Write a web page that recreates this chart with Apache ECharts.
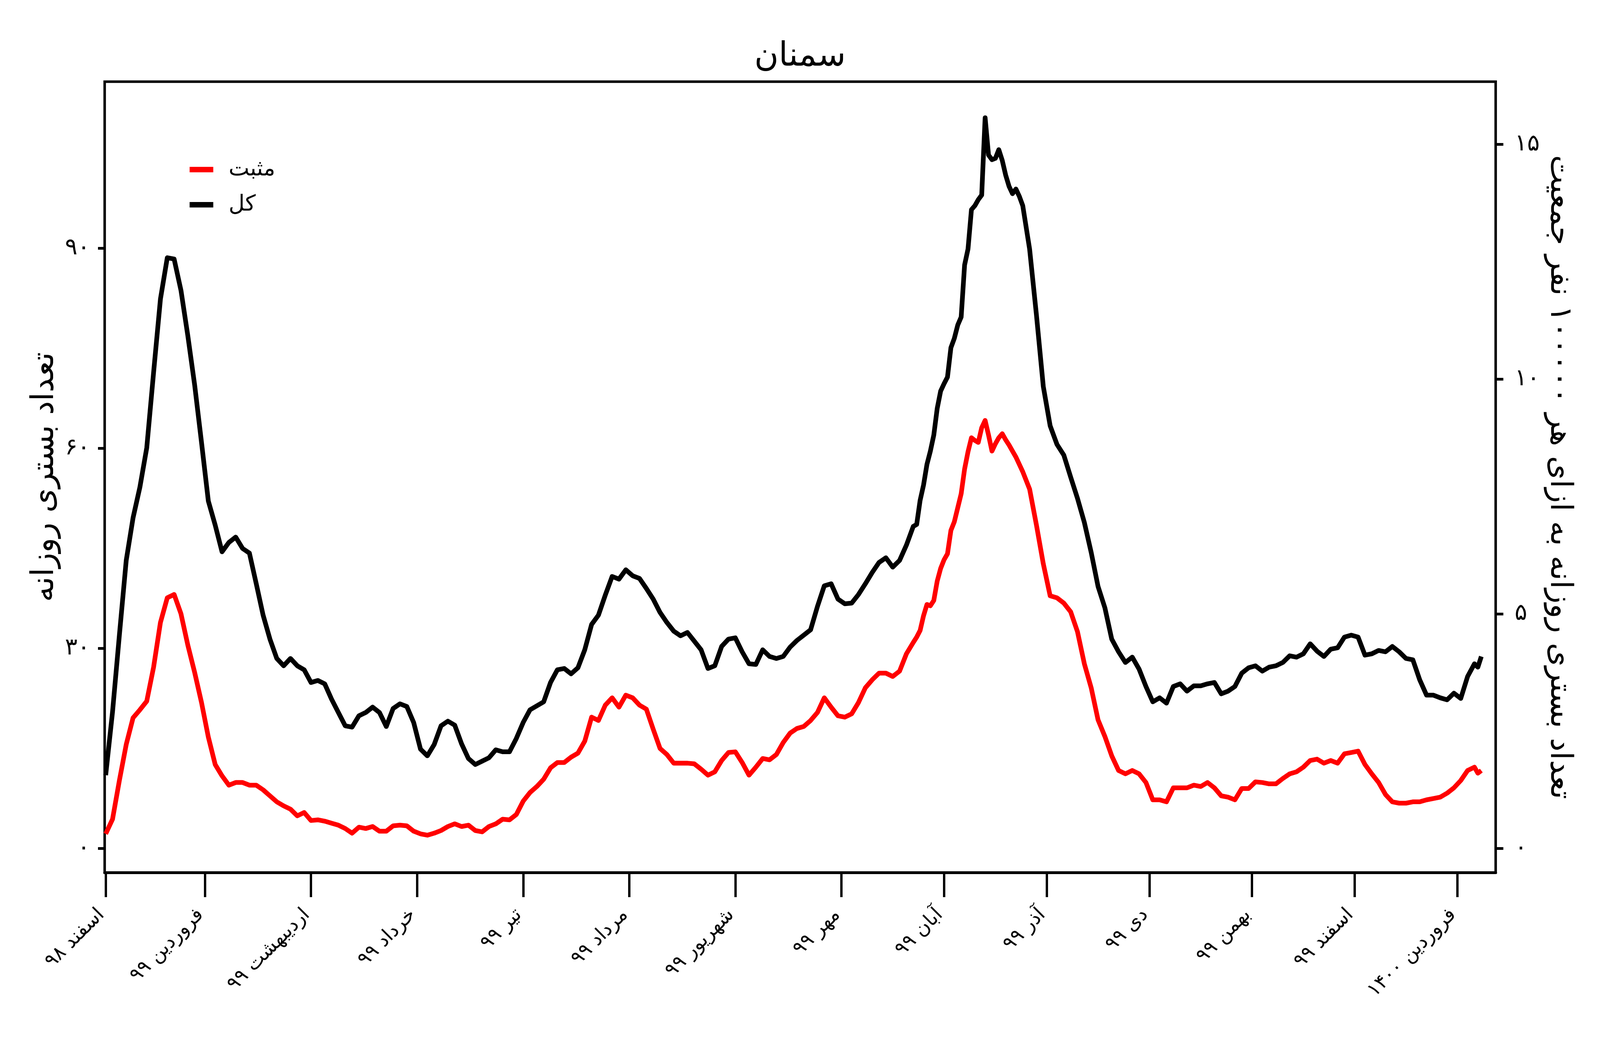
<!DOCTYPE html>
<html>
<head>
<meta charset="utf-8">
<title>سمنان</title>
<script src="https://cdn.jsdelivr.net/npm/echarts@6/dist/echarts.min.js"></script>
<style>
  html, body { margin: 0; padding: 0; background: #ffffff; overflow: hidden; }
  #chart-container { width: 100vw; height: 100vh; }
</style>
</head>
<body>
<div id="chart-container"></div>
<script>
// day 0 = 1 Esfand 1398
var days = [
  0, 2, 4, 6, 8, 10, 12, 14, 16, 18,
  20, 22, 24, 26, 28, 30, 32, 34, 36, 38,
  40, 42, 44, 46, 48, 50, 52, 54, 56, 58,
  60, 62, 64, 66, 68, 70, 72, 74, 76, 78,
  80, 82, 84, 86, 88, 90, 92, 94, 96, 98,
  100, 102, 104, 106, 108, 110, 112, 114, 116, 118,
  120, 122, 124, 126, 128, 130, 132, 134, 136, 138,
  140, 142, 144, 146, 148, 150, 152, 154, 156, 158,
  160, 162, 164, 166, 168, 170, 172, 174, 176, 178,
  180, 182, 184, 186, 188, 190, 192, 194, 196, 198,
  200, 202, 204, 206, 208, 210, 212, 214, 216, 218,
  220, 222, 224, 226, 228, 230, 232, 234,
  236, 237, 238, 239, 240, 241, 242, 243, 244, 245,
  246, 247, 248, 249, 250, 251, 252, 253, 254, 255,
  256, 257, 258, 259, 260, 261, 262, 263, 264, 265,
  266, 267, 268,
  270, 272, 274, 276, 278, 280, 282, 284, 286, 288,
  290, 292, 294, 296, 298, 300, 302, 304, 306, 308,
  310, 312, 314, 316, 318, 320, 322, 324, 326, 328,
  330, 332, 334, 336, 338, 340, 342, 344, 346, 348,
  350, 352, 354, 356, 358, 360, 362, 364, 366, 368,
  370, 372, 374, 376, 378, 380, 382, 384, 386, 388,
  390, 392, 394, 396, 398, 400, 401, 402
];

var total = [
  11.0, 20.5, 32.0, 43.2, 49.6, 54.2, 60.1, 71.4, 82.4, 88.6,
  88.4, 83.7, 76.9, 69.5, 60.9, 52.1, 48.5, 44.5, 45.9, 46.7,
  45.0, 44.3, 39.7, 35.0, 31.4, 28.5, 27.4, 28.5, 27.4, 26.8,
  24.9, 25.2, 24.7, 22.4, 20.4, 18.4, 18.2, 19.9, 20.4, 21.2,
  20.4, 18.3, 21.0, 21.7, 21.3, 18.9, 14.9, 13.9, 15.6, 18.4,
  19.1, 18.5, 15.7, 13.5, 12.6, 13.1, 13.6, 14.8, 14.5, 14.5,
  16.5, 18.9, 20.8, 21.4, 22.0, 24.9, 26.8, 27.0, 26.2, 27.1,
  29.8, 33.6, 35.0, 38.0, 40.8, 40.4, 41.8, 40.9, 40.5, 39.0,
  37.4, 35.4, 33.9, 32.6, 31.9, 32.4, 31.1, 29.8, 27.0, 27.4,
  30.3, 31.4, 31.6, 29.5, 27.7, 27.6, 29.8, 28.8, 28.5, 28.8,
  30.2, 31.2, 32.0, 32.8, 36.3, 39.4, 39.7, 37.4, 36.7, 36.8,
  38.1, 39.7, 41.4, 42.9, 43.6, 42.2, 43.2, 45.5,
  48.3, 48.6, 52.2, 54.5, 57.6, 59.6, 62.0, 66.0, 68.6, 69.7,
  70.7, 75.1, 76.5, 78.5, 79.7, 87.5, 89.9, 95.8, 96.4, 97.3,
  98.0, 109.6, 104.0, 103.3, 103.5, 104.8, 103.2, 101.0, 99.3, 98.2,
  98.9, 97.8, 96.4,
  89.9, 80.0, 69.3, 63.4, 60.6, 59.0, 55.7, 52.5, 48.9, 44.4,
  39.3, 36.1, 31.4, 29.5, 27.9, 28.7, 26.9, 24.3, 22.0, 22.6,
  21.8, 24.3, 24.7, 23.6, 24.4, 24.4, 24.7, 24.9, 23.2, 23.6,
  24.3, 26.3, 27.1, 27.4, 26.6, 27.2, 27.4, 27.9, 28.9, 28.7,
  29.2, 30.7, 29.6, 28.8, 29.9, 30.1, 31.7, 32.0, 31.7, 29.0,
  29.2, 29.7, 29.5, 30.3, 29.5, 28.5, 28.3, 25.3, 23.0, 23.0,
  22.6, 22.3, 23.3, 22.5, 25.8, 27.7, 27.2, 28.8
];

var positive = [
  2.2, 4.4, 10.2, 15.6, 19.6, 20.8, 22.1, 27.2, 33.9, 37.6,
  38.1, 35.2, 30.5, 26.4, 21.9, 16.7, 12.6, 10.9, 9.5, 9.9,
  9.9, 9.5, 9.5, 8.8, 7.9, 7.0, 6.4, 5.9, 4.9, 5.4,
  4.2, 4.3, 4.1, 3.8, 3.5, 3.0, 2.3, 3.2, 3.0, 3.3,
  2.6, 2.6, 3.4, 3.5, 3.4, 2.6, 2.2, 2.0, 2.3, 2.7,
  3.3, 3.7, 3.3, 3.5, 2.7, 2.5, 3.3, 3.7, 4.4, 4.3,
  5.1, 7.1, 8.4, 9.3, 10.4, 12.1, 12.9, 12.9, 13.7, 14.3,
  16.1, 19.7, 19.2, 21.5, 22.6, 21.2, 23.0, 22.6, 21.5, 20.9,
  17.9, 15.0, 14.1, 12.8, 12.8, 12.8, 12.7, 11.9, 11.0, 11.5,
  13.2, 14.4, 14.5, 12.9, 11.0, 12.2, 13.5, 13.3, 14.1, 15.9,
  17.3, 18.0, 18.3, 19.2, 20.4, 22.6, 21.2, 19.9, 19.7, 20.2,
  21.9, 24.1, 25.3, 26.3, 26.3, 25.8, 26.6, 29.2,
  30.9, 31.7, 32.7, 34.9, 36.6, 36.4, 37.2, 40.1, 42.0, 43.3,
  44.2, 47.7, 49.0, 51.1, 53.2, 56.9, 59.5, 61.6, 61.2, 60.9,
  63.1, 64.2, 62.0, 59.6, 60.7, 61.6, 62.2, 61.3, 60.5, 59.6,
  58.7, 57.6, 56.5,
  53.9, 48.5, 42.7, 37.9, 37.6, 36.8, 35.5, 32.5, 27.7, 24.1,
  19.3, 16.8, 13.9, 11.7, 11.2, 11.7, 11.2, 9.9, 7.3, 7.3,
  7.0, 9.1, 9.1, 9.1, 9.5, 9.3, 9.9, 9.1, 7.9, 7.7,
  7.3, 9.0, 9.0, 10.0, 9.9, 9.7, 9.7, 10.5, 11.2, 11.5,
  12.2, 13.2, 13.4, 12.8, 13.2, 12.8, 14.2, 14.4, 14.6, 12.6,
  11.2, 9.9, 8.1, 7.0, 6.8, 6.8, 7.0, 7.0, 7.3, 7.5,
  7.7, 8.3, 9.1, 10.2, 11.7, 12.2, 11.3, 11.7
];

// first day of each Persian month, counted from 1 Esfand 1398
var monthStarts = [0, 29, 60, 91, 122, 153, 184, 215, 245, 275, 305, 335, 365, 395];
var monthLabels = [
  "اسفند ۹۸", "فروردین ۹۹", "اردیبهشت ۹۹", "خرداد ۹۹", "تیر ۹۹", "مرداد ۹۹",
  "شهریور ۹۹", "مهر ۹۹", "آبان ۹۹", "آذر ۹۹", "دی ۹۹", "بهمن ۹۹",
  "اسفند ۹۹", "فروردین ۱۴۰۰"
];
var leftTicks = [0, 30, 60, 90];
var rightTicks = [0, 5, 10, 15];

// population of Semnan in units of 100000 people
var populationPer100k = 7.04;
var leftMin = -3.6;
var leftMax = 115;

if (total.length !== days.length || positive.length !== days.length) {
  console.warn("length mismatch", days.length, total.length, positive.length);
}

function toFa(v) {
  return String(v).replace(/\d/g, function (d) {
    return "۰۱۲۳۴۵۶۷۸۹"[d];
  });
}

var font = "DejaVu Sans";

var dom = document.getElementById("chart-container");
// layout was measured on a 4800x2700 picture; map it onto the real viewport
var sx = (dom.clientWidth || window.innerWidth) / 4800;
var sy = (dom.clientHeight || window.innerHeight) / 2700;
function px(v) { return v * sx; }
function py(v) { return v * sy; }
function pxy(v) { return v * Math.sqrt(sx * sy); }

var legendLine = px(66);

var myChart = echarts.init(dom, null, { renderer: "canvas" });

var option = {
  animation: false,
  backgroundColor: "#ffffff",
  title: {
    text: "سمنان",
    left: "center",
    top: py(98),
    textStyle: { fontFamily: font, fontSize: pxy(92), fontWeight: "normal", color: "#000" }
  },
  legend: {
    orient: "vertical",
    left: px(563),
    top: py(429) - legendLine / 2,
    itemWidth: px(71),
    itemHeight: py(14),
    itemGap: py(90) - legendLine,
    icon: "rect",
    data: ["مثبت", "کل"],
    textStyle: {
      fontFamily: font,
      fontSize: px(66),
      lineHeight: legendLine,
      color: "#000",
      padding: [0, 0, 0, px(40)]
    }
  },
  grid: {
    left: px(314),
    right: px(313),
    top: py(209),
    bottom: py(467),
    show: true,
    borderColor: "#000",
    borderWidth: pxy(7),
    backgroundColor: "transparent"
  },
  xAxis: {
    type: "value",
    min: -0.3,
    max: 406.2,
    axisLine: { show: true, onZero: false, lineStyle: { color: "#000", width: py(7) } },
    axisTick: {
      show: true,
      length: py(63),
      customValues: monthStarts,
      lineStyle: { color: "#000", width: px(7) }
    },
    axisLabel: {
      customValues: monthStarts,
      rotate: 45,
      margin: py(90),
      padding: [0, px(18), 0, 0],
      fontFamily: font,
      fontSize: pxy(54),
      color: "#000",
      formatter: function (value) {
        var i = monthStarts.indexOf(value);
        return i >= 0 ? monthLabels[i] : "";
      }
    },
    splitLine: { show: false }
  },
  yAxis: [
    {
      type: "value",
      position: "left",
      min: leftMin,
      max: leftMax,
      name: "تعداد بستری روزانه",
      nameLocation: "middle",
      nameRotate: 90,
      nameGap: px(130),
      nameTextStyle: { fontFamily: font, fontSize: py(80), color: "#000" },
      axisLine: { show: true, onZero: false, lineStyle: { color: "#000", width: px(7) } },
      axisTick: {
        show: true,
        length: px(20),
        customValues: leftTicks,
        lineStyle: { color: "#000", width: py(7) }
      },
      axisLabel: {
        customValues: leftTicks,
        margin: px(44),
        fontFamily: font,
        fontSize: px(70),
        color: "#000",
        formatter: function (v) { return toFa(v); }
      },
      splitLine: { show: false }
    },
    {
      type: "value",
      position: "right",
      min: leftMin / populationPer100k,
      max: leftMax / populationPer100k,
      name: "تعداد بستری روزانه به ازای هر ۱۰۰۰۰۰ نفر جمعیت",
      nameLocation: "middle",
      nameRotate: -90,
      nameGap: px(134),
      nameTextStyle: { fontFamily: font, fontSize: py(78), color: "#000" },
      axisLine: { show: true, onZero: false, lineStyle: { color: "#000", width: px(7) } },
      axisTick: {
        show: true,
        length: px(23),
        customValues: rightTicks,
        lineStyle: { color: "#000", width: py(7) }
      },
      axisLabel: {
        customValues: rightTicks,
        margin: px(57),
        fontFamily: font,
        fontSize: px(70),
        color: "#000",
        formatter: function (v) { return toFa(v); }
      },
      splitLine: { show: false }
    }
  ],
  series: [
    {
      name: "مثبت",
      type: "line",
      yAxisIndex: 0,
      showSymbol: false,
      symbol: "none",
      itemStyle: { color: "#ff0000" },
      lineStyle: { color: "#ff0000", width: pxy(13), join: "round" },
      data: days.map(function (d, i) { return [d, positive[i]]; })
    },
    {
      name: "کل",
      type: "line",
      yAxisIndex: 0,
      showSymbol: false,
      symbol: "none",
      itemStyle: { color: "#000000" },
      lineStyle: { color: "#000000", width: pxy(13), join: "round" },
      data: days.map(function (d, i) { return [d, total[i]]; })
    }
  ]
};

if (option && typeof option === "object") {
  myChart.setOption(option);
}

window.addEventListener("resize", myChart.resize);
</script>
</body>
</html>
